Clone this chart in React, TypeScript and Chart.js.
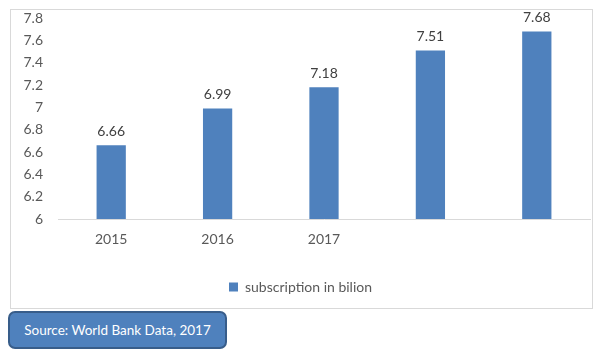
import React, { useEffect, useRef } from "react";
import { Chart, registerables } from "chart.js";

Chart.register(...registerables);

const categories = ["2015", "2016", "2017", "", ""];
const subscriptions = [6.66, 6.99, 7.18, 7.51, 7.68];
const seriesLabel = "subscription in bilion";
const yMin = 6;
const yMax = 7.8;
const yStep = 0.2;
const sourceText = "Source: World Bank Data, 2017";

const FONT = "Lato, 'Open Sans', sans-serif";

const valueLabels = {
  id: "valueLabels",
  afterDatasetsDraw(chart: any) {
    const ctx = chart.ctx;
    const meta = chart.getDatasetMeta(0);
    ctx.save();
    ctx.font = `14px ${FONT}`;
    ctx.fillStyle = "#404040";
    ctx.textAlign = "center";
    ctx.textBaseline = "middle";
    meta.data.forEach((bar: any, i: number) => {
      ctx.fillText(subscriptions[i].toFixed(2), bar.x, bar.y - 14);
    });
    ctx.restore();
  },
};

export default function App() {
  const canvasRef = useRef<HTMLCanvasElement | null>(null);

  useEffect(() => {
    if (!canvasRef.current) return;
    const chart = new Chart(canvasRef.current, {
      type: "bar",
      data: {
        labels: categories,
        datasets: [
          {
            label: seriesLabel,
            data: subscriptions,
            backgroundColor: "#4f81bd",
            borderWidth: 0,
            categoryPercentage: 1,
            barPercentage: 0.275,
          },
        ],
      },
      options: {
        animation: false,
        responsive: false,
        maintainAspectRatio: false,
        layout: { padding: { top: 8, left: 0, right: 2, bottom: 4 } },
        plugins: {
          tooltip: { enabled: false },
          legend: {
            position: "bottom",
            labels: {
              boxWidth: 9,
              boxHeight: 9,
              padding: 10,
              color: "#595959",
              font: { family: FONT, size: 14 },
            },
          },
        },
        scales: {
          x: {
            grid: { display: false, drawTicks: false },
            border: { display: true, color: "#d9d9d9", width: 1 },
            ticks: {
              color: "#595959",
              font: { family: FONT, size: 14 },
              padding: 12,
              maxRotation: 0,
            },
            afterFit(scale: any) {
              scale.height = 51;
              scale.paddingLeft = 0;
              scale.paddingRight = 0;
            },
          },
          y: {
            min: yMin,
            max: yMax,
            grid: { display: false, drawTicks: false },
            border: { display: false },
            ticks: {
              stepSize: yStep,
              color: "#595959",
              font: { family: FONT, size: 14 },
              padding: 15,
              callback: (v: any) => String(Math.round(Number(v) * 10) / 10),
            },
            afterFit(scale: any) {
              scale.width = 47;
              scale.paddingTop = 0;
              scale.paddingBottom = 0;
            },
          },
        },
      },
      plugins: [valueLabels],
    });
    return () => chart.destroy();
  }, []);

  return (
    <div
      style={{
        position: "fixed",
        left: 0,
        top: 0,
        width: 600,
        height: 355,
        background: "#ffffff",
        fontFamily: FONT,
      }}
    >
      <div
        style={{
          position: "absolute",
          left: 10,
          top: 9,
          width: 581,
          height: 298,
          border: "1px solid #d9d9d9",
        }}
      >
        <canvas ref={canvasRef} width={581} height={298} style={{ display: "block" }} />
      </div>
      <div
        style={{
          position: "absolute",
          left: 8,
          top: 311,
          width: 215,
          height: 34,
          background: "#4f81bd",
          border: "2px solid #385d8a",
          borderRadius: 7,
          color: "#ffffff",
          fontSize: 13.5,
          display: "flex",
          alignItems: "center",
          justifyContent: "center",
          boxSizing: "content-box",
        }}
      >
        {sourceText}
      </div>
    </div>
  );
}
